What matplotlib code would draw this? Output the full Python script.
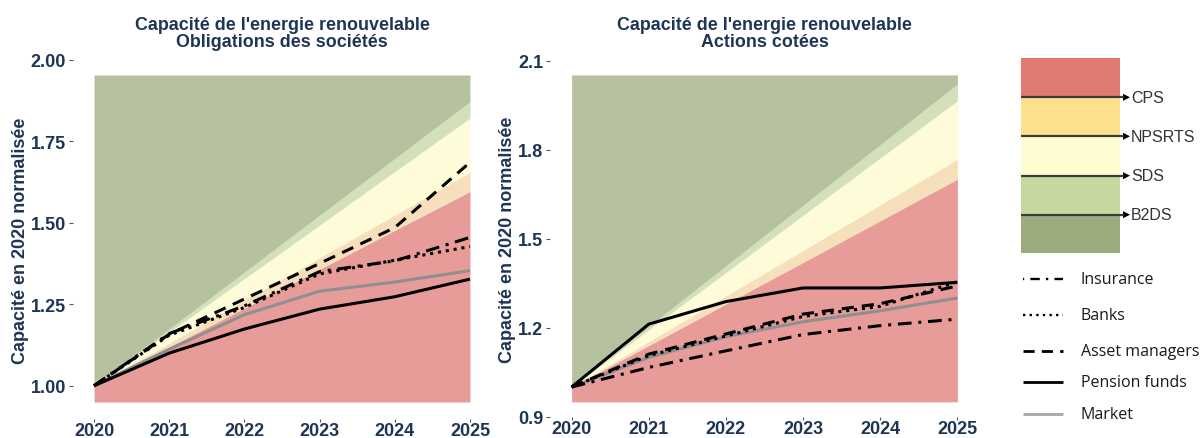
import matplotlib
matplotlib.use("Agg")
import matplotlib.pyplot as plt
from matplotlib.patches import Rectangle, Polygon

plt.rcParams['font.family'] = ['Liberation Sans', 'DejaVu Sans']

# ---------------- data ----------------
years = [2020, 2021, 2022, 2023, 2024, 2025]

# scenario boundaries at 2025 (linear from 1.0 in 2020)
scen_names = ["CPS", "NPSRTS", "SDS", "B2DS"]
left_scen_2025 = [1.596, 1.655, 1.821, 1.871]
right_scen_2025 = [1.701, 1.768, 1.965, 2.021]
left_fill_range = [0.95, 1.953]
right_fill_range = [0.95, 2.052]

series_names = ["Insurance", "Banks", "Asset managers", "Pension funds", "Market"]

left_insurance = [1.00, 1.160, 1.245, 1.350, 1.383, 1.455]
left_banks = [1.00, 1.155, 1.240, 1.343, 1.385, 1.427]
left_asset = [1.00, 1.158, 1.266, 1.375, 1.485, 1.685]
left_pension = [1.00, 1.100, 1.174, 1.235, 1.273, 1.327]
left_market = [1.00, 1.112, 1.218, 1.290, 1.318, 1.353]

right_insurance = [1.00, 1.066, 1.122, 1.177, 1.207, 1.229]
right_banks = [1.00, 1.106, 1.172, 1.238, 1.272, 1.355]
right_asset = [1.00, 1.111, 1.179, 1.246, 1.281, 1.341]
right_pension = [1.00, 1.212, 1.288, 1.334, 1.334, 1.353]
right_market = [1.00, 1.100, 1.170, 1.220, 1.257, 1.300]

left_yticks = [1.00, 1.25, 1.50, 1.75, 2.00]
left_yticklabels = ["1.00", "1.25", "1.50", "1.75", "2.00"]
right_yticks = [0.9, 1.2, 1.5, 1.8, 2.1]
right_yticklabels = ["0.9", "1.2", "1.5", "1.8", "2.1"]

titles = ["Capacité de l'energie renouvelable\nObligations des sociétés",
          "Capacité de l'energie renouvelable\nActions cotées"]
ylabel = "Capacité en 2020 normalisée"

# ---------------- styles ----------------
fill_colors = ["#e89c9a", "#f6dfbb", "#fdfbd8", "#d4e0ba", "#b5c19f"]  # red, orange, yellow, lgreen, dgreen
legend_colors = ["#e07a72", "#fde08e", "#fffcd2", "#c5d89e", "#9cab7b"]  # top -> bottom
navy = "#1f3556"
line_styles = {
    "Insurance": dict(color="black", dashes=(4.5, 2.2, 1, 2.2)),
    "Banks": dict(color="black", dashes=(1, 1.6)),
    "Asset managers": dict(color="black", dashes=(4, 2.6)),
    "Pension funds": dict(color="black", linestyle="-"),
    "Market": dict(color="#8f8f8f", linestyle="-"),
}
legend_styles = {
    "Insurance": dict(color="black", linestyle=(0.5, (1, 2.6, 4, 2.6))),
    "Banks": dict(color="black", linestyle=(0, (1, 1.8))),
    "Asset managers": dict(color="black", linestyle=(0, (4, 2.6))),
    "Pension funds": dict(color="black", linestyle="-"),
    "Market": dict(color="#a8a8a8", linestyle="-"),
}
LW = 2.2

W, H = 1200, 439
fig = plt.figure(figsize=(12, 4.39), dpi=100)

def px_axes(l, r, t, b):
    return fig.add_axes([l / W, (H - b) / H, (r - l) / W, (b - t) / H])

axL = px_axes(73, 491, 60.7, 420)
axR = px_axes(550, 979, 61.7, 417.7)

def draw_panel(ax, scen2025, frange, series, yticks, yticklabels, ylim, title, ylab_x, title_y):
    x0, x1 = years[0], years[-1]
    lo, hi = frange
    bounds = [[1.0, v] for v in scen2025]
    prev_lo = [lo, lo]
    regions = bounds + [[hi, hi]]
    for col, b in zip(fill_colors, regions):
        ax.fill_between([x0, x1], prev_lo, b, color=col, lw=0, zorder=1)
        prev_lo = b
    for name, vals in zip(series_names, series):
        st = dict(line_styles[name])
        ax.plot(years, vals, lw=LW, zorder=3 if name != "Market" else 2.5,
                solid_capstyle="butt", dash_capstyle="butt", **st)
    ax.set_xlim(2019.72, 2025.28)
    ax.set_ylim(*ylim)
    ax.set_xticks(years)
    ax.set_xticklabels([str(y) for y in years])
    ax.set_yticks(yticks)
    ax.set_yticklabels(yticklabels)
    for s in ax.spines.values():
        s.set_visible(False)
    ax.tick_params(axis="both", width=0.8, color="#555555", labelsize=13, labelcolor=navy)
    ax.tick_params(axis="y", length=3, pad=2)
    ax.tick_params(axis="x", length=2.5, pad=0)
    for lab in ax.get_xticklabels() + ax.get_yticklabels():
        lab.set_fontweight("bold")
    ax.set_ylabel(ylabel, fontsize=13, fontweight="bold", color=navy)
    ax.yaxis.set_label_coords(ylab_x, 0.5)
    ax.text(0.5, title_y, title, transform=ax.transAxes, ha="center", va="center",
            fontsize=12.9, fontweight="bold", color=navy, linespacing=1.0)

draw_panel(axL, left_scen_2025, left_fill_range,
           [left_insurance, left_banks, left_asset, left_pension, left_market],
           left_yticks, left_yticklabels, (0.898, 2.0), titles[0], -0.105, 1.074)
draw_panel(axR, right_scen_2025, right_fill_range,
           [right_insurance, right_banks, right_asset, right_pension, right_market],
           right_yticks, right_yticklabels, (0.9, 2.1), titles[1], -0.079, 1.078)

# ---------------- legend ----------------
axG = px_axes(1000, 1200, 0, 439)
axG.set_xlim(1000, 1200)
axG.set_ylim(439, 0)
axG.axis("off")

box_l, box_r = 1021, 1120
edges = [59.3, 98.3, 137.3, 176.7, 215.7, 254]
for i, col in enumerate(legend_colors):
    axG.add_patch(Rectangle((box_l, edges[i]), box_r - box_l, edges[i + 1] - edges[i],
                            facecolor=col, edgecolor="none"))
for i, name in enumerate(scen_names):
    y = edges[i + 1]
    axG.plot([box_l, box_r + 4], [y, y], color="#3a3a3a", lw=1.6, solid_capstyle="butt")
    axG.add_patch(Polygon([[box_r + 3, y - 3.5], [box_r + 10, y], [box_r + 3, y + 3.5]],
                          closed=True, facecolor="black", edgecolor="none"))
    axG.text(box_r + 11, y, name, fontsize=11.5, color="#333333", va="center", ha="left",
             family=["Liberation Sans", "DejaVu Sans"])

leg_y = [280, 315.7, 351.7, 382.7, 415]
for name, y in zip(series_names, leg_y):
    st = dict(legend_styles[name])
    axG.plot([1023, 1063], [y, y], lw=2.0 if name not in ("Banks", "Insurance") else 1.7,
             dash_capstyle="butt", solid_capstyle="butt", **st)
    axG.text(1081, y, name, fontsize=11.5, color="#1a1a1a", va="center", ha="left",
             family=["Open Sans", "DejaVu Sans"])

fig.savefig("out.png", dpi=100, facecolor="white")
